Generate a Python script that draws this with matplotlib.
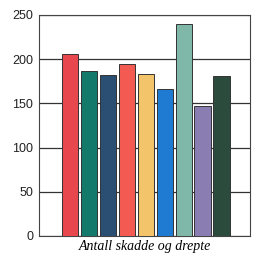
import matplotlib
matplotlib.use("Agg")
import matplotlib.pyplot as plt

plt.rcParams["font.family"] = ["Liberation Sans", "DejaVu Sans"]

values = [206, 186, 182, 195, 183, 166, 240, 147, 181]
colors = ["#e8474e", "#13796a", "#2b4f73", "#f25a52", "#f4c46a", "#1f7bd2", "#7fb7a9", "#8a7db2", "#2b4b3c"]
yticks = [0, 50, 100, 150, 200, 250]
xlabel = "Antall skadde og drepte"

fig = plt.figure(figsize=(2.61, 2.57), dpi=100)
ax = fig.add_axes([0.149, 0.082, 0.809, 0.860])
x = list(range(len(values)))
ax.bar(x, values, width=0.85, color=colors, edgecolor="#333333", linewidth=0.7, zorder=3)
ax.set_ylim(0, 250)
ax.set_xlim(-1.62, 9.5)
ax.set_yticks(yticks)
ax.set_xticks([])
ax.yaxis.grid(True, color="#333333", linewidth=0.9, zorder=0)
ax.tick_params(axis="y", length=0, labelsize=9, pad=4, labelcolor="#222222")
for s in ax.spines.values():
    s.set_color("#444444")
    s.set_linewidth(0.8)
ax.set_xlabel(xlabel, family="Liberation Serif", style="italic", fontsize=10, labelpad=3)
fig.savefig("out.png", dpi=100)
